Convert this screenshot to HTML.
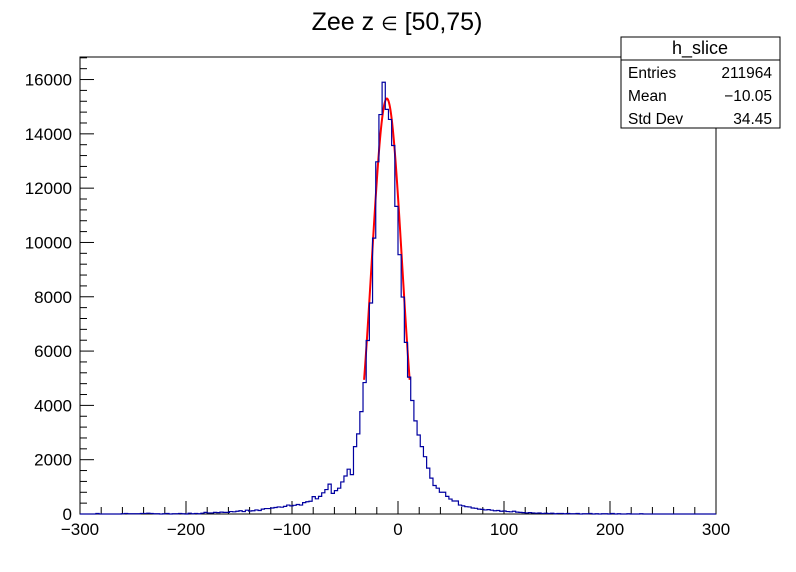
<!DOCTYPE html>
<html><head><meta charset="utf-8"><style>
body{margin:0;background:#fff;}
svg{display:block;font-family:"Liberation Sans",sans-serif;}
</style></head><body>
<svg id="c" width="796" height="572">
<rect x="0" y="0" width="796" height="572" fill="#fff"/>
<text x="397" y="30" font-size="25" text-anchor="middle">Zee z <tspan font-size="19">∈</tspan> [50,75)</text>
<rect x="80" y="57" width="636" height="457" fill="none" stroke="#000" stroke-width="1"/>
<g id="axes"></g>
<path id="fit" fill="none" stroke="#ff0000" stroke-width="2"/>
<path id="hist" fill="none" stroke="#0000a0" stroke-width="1.2"/>
<g>
<rect x="621" y="37" width="159" height="91" fill="#fff" stroke="#000"/>
<line x1="621" y1="60" x2="780" y2="60" stroke="#000"/>
<text x="700" y="54" font-size="18" text-anchor="middle">h_slice</text>
<text x="628" y="78" font-size="15.5">Entries</text><text x="772" y="78" font-size="15.5" text-anchor="end">211964</text>
<text x="628" y="101" font-size="15.5">Mean</text><text x="772" y="101" font-size="15.5" text-anchor="end">−10.05</text>
<text x="628" y="124" font-size="15.5">Std Dev</text><text x="772" y="124" font-size="15.5" text-anchor="end">34.45</text>
</g>
</svg>
<script>
const xMin=-300, xMax=300, binW=3;
const yMax=16830;
const xTicks=[-300,-200,-100,0,100,200,300];
const yTicks=[0,2000,4000,6000,8000,10000,12000,14000,16000];
const leftTail=[0,0,0,0,0,20,0,0,0,0,0,0,0,10,20,10,10,10,10,20,20,30,20,10,10,0,10,20,0,10,10,20,10,0,30,10,20,10,30,60,40,40,60,50,70,60,60,90,80,100,120,90,140,110,120,150,130,180,200,200,220,240,260,250,280,330,300,320,350,330,420,450,470,640,560,650,780,900,1100];
const peak=[760,860,950,1180,1400,1650,1450,2480,2950,3770,4840,6390,7770,10160,12970,14710,15900,14900,14530,13570,11330,9550,7990,6320,5040,4180,3430,2910,2480,2110,1690,1320,1050,950,800,800,650,550,480,480,330];
const rightTail=[300,270,260,220,210,180,170,150,160,140,120,130,100,110,90,80,100,70,60,50,40,50,40,30,40,20,30,20,30,10,20,20,10,20,10,10,20,0,10,10,20,0,10,0,10,10,0,20,0,10,0,0,10,0,0,0,10,0,0,0,0,0,0,0,0,0,0,0,0,0,0,0,0,0,0,0,0,0,0,0];
const counts=leftTail.concat(peak,rightTail);
const fitMean=[-10.5], fitSigma=[14.3], fitAmp=[15300], fitRange=[-32,11.3];
const L=80,R=716,T=57,B=514;
const X=v=>L+(v-xMin)/(xMax-xMin)*(R-L);
const Y=c=>B-c/yMax*(B-T);
const ns="http://www.w3.org/2000/svg";
const ax=document.getElementById('axes');
function el(t,a,p){const e=document.createElementNS(ns,t);for(const k in a)e.setAttribute(k,a[k]);(p||ax).appendChild(e);return e;}
for(let v=xMin;v<=xMax;v+=20){const maj=(v%100===0);
 const l=el('line',{x1:X(v),x2:X(v),y1:B,y2:B-(maj?13:7),stroke:'#000'});
 
 }
xTicks.forEach(v=>{const t=el('text',{x:X(v),y:B+21,'font-size':17,'text-anchor':'middle'});t.textContent=(v<0?'−'+(-v):v);
 
 });
for(let c=0;c<=yMax;c+=400){const maj=(c%2000===0);
 const l=el('line',{x1:L,x2:L+(maj?14:7),y1:Y(c),y2:Y(c),stroke:'#000'});
 
 }
yTicks.forEach(c=>{const t=el('text',{x:L-8,y:Y(c)+6,'font-size':17,'text-anchor':'end'});t.textContent=c;
 
 });
let d='M'+X(xMin)+','+Y(0);
counts.forEach((c,i)=>{const x0=X(xMin+i*binW),x1=X(xMin+(i+1)*binW);d+=' L'+x0+','+Y(c)+' L'+x1+','+Y(c);});
d+=' L'+X(xMax)+','+Y(0);
document.getElementById('hist').setAttribute('d',d);
let f='';
for(let v=fitRange[0];v<=fitRange[1];v+=0.5){const c=fitAmp[0]*Math.exp(-Math.pow(v-fitMean[0],2)/(2*fitSigma[0]*fitSigma[0]));f+=(f?' L':'M')+X(v)+','+Y(c);}
document.getElementById('fit').setAttribute('d',f);
</script>
</body></html>
